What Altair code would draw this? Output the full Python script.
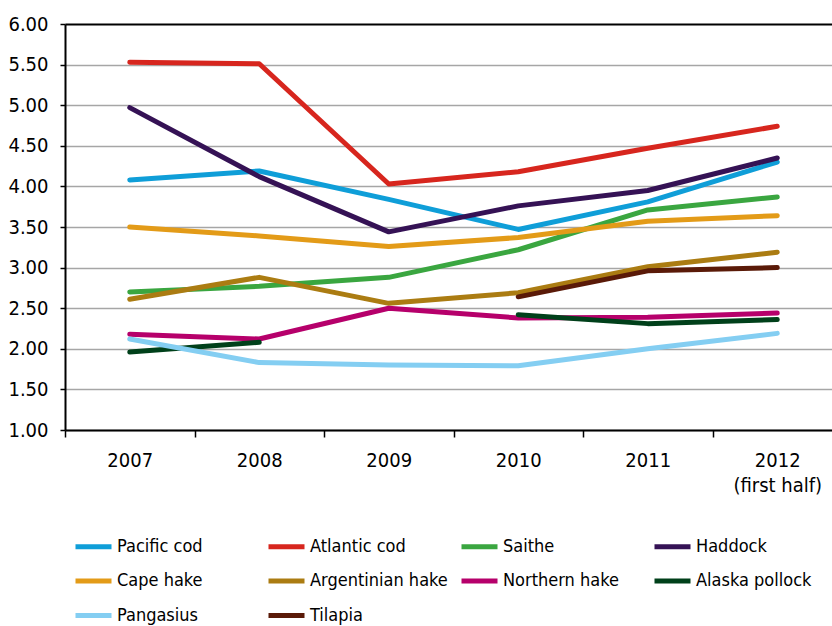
import altair as alt
import pandas as pd

years = ["2007", "2008", "2009", "2010", "2011", "2012"]

species = ["Pacific cod", "Atlantic cod", "Saithe", "Haddock", "Cape hake",
           "Argentinian hake", "Northern hake", "Alaska pollock", "Pangasius", "Tilapia"]
colors = ["#0F9ED8", "#D7261E", "#3AA640", "#351255", "#E39B18",
          "#AB7C12", "#B6006B", "#00401A", "#84CEF2", "#5A1A08"]

pacific_cod = [4.08, 4.19, 3.84, 3.47, 3.81, 4.30]
atlantic_cod = [5.53, 5.51, 4.03, 4.18, 4.47, 4.74]
saithe = [2.70, 2.77, 2.88, 3.22, 3.71, 3.87]
haddock = [4.97, 4.12, 3.44, 3.76, 3.95, 4.35]
cape_hake = [3.50, 3.39, 3.26, 3.37, 3.57, 3.64]
argentinian_hake = [2.61, 2.88, 2.56, 2.69, 3.01, 3.19]
northern_hake = [2.18, 2.12, 2.50, 2.38, 2.39, 2.44]
alaska_pollock = [1.96, 2.08, None, 2.42, 2.31, 2.36]
pangasius = [2.12, 1.83, 1.80, 1.79, 2.00, 2.19]
tilapia = [None, None, None, 2.64, 2.96, 3.00]

series = [pacific_cod, atlantic_cod, saithe, haddock, cape_hake,
          argentinian_hake, northern_hake, alaska_pollock, pangasius, tilapia]

y_ticks = [1.0, 1.5, 2.0, 2.5, 3.0, 3.5, 4.0, 4.5, 5.0, 5.5, 6.0]

rows = []
for name, vals in zip(species, series):
    seg = 0
    for yr, v in zip(years, vals):
        if v is None:
            seg += 1
            continue
        rows.append({"species": name, "year": yr, "value": v, "seg": f"{name}-{seg}"})
df = pd.DataFrame(rows)

FONT = "DejaVu Sans Condensed, DejaVu Sans, sans-serif"
FS = 20
LFS = 18

chart = alt.Chart(df).mark_line(strokeWidth=5, strokeCap="round", strokeJoin="round").encode(
    x=alt.X("year:O",
            scale=alt.Scale(type="band", domain=years, range=[0, 777], paddingInner=0, paddingOuter=0),
            axis=alt.Axis(title=None, tickBand="extent", labelAngle=0, grid=False,
                          domainColor="#000000", domainWidth=2,
                          tickColor="#000000", tickWidth=1.5, tickSize=7,
                          labelFontSize=FS, labelColor="#000000", labelPadding=13,
                          labelLineHeight=25,
                          labelExpr="datum.value == '2012' ? ['2012', '(first half)'] : datum.label")),
    y=alt.Y("value:Q",
            scale=alt.Scale(domain=[1, 6], nice=False, zero=False),
            axis=alt.Axis(title=None, values=y_ticks, format=".2f",
                          domainColor="#000000", domainWidth=2,
                          tickColor="#000000", tickWidth=1.5, tickSize=5,
                          labelFontSize=FS, labelColor="#000000", labelPadding=12,
                          gridColor=alt.condition("datum.value == 6", alt.value("#000000"), alt.value("#A6A6A6")),
                          gridWidth=alt.condition("datum.value == 6", alt.value(2), alt.value(1.5)))),
    color=alt.Color("species:N",
                    scale=alt.Scale(domain=species, range=colors),
                    legend=alt.Legend(title=None, orient="none", legendX=8, legendY=502,
                                      direction="horizontal",
                                      columns=4, gridAlign="all", columnPadding=3, rowPadding=3.5,
                                      symbolType="stroke", symbolSize=1296, symbolStrokeWidth=5,
                                      labelFontSize=LFS, labelColor="#000000", labelOffset=3,
                                      labelLimit=300)),
    detail="seg:N",
).properties(
    width=767, height=406,
    autosize=alt.AutoSizeParams(type="none"),
    padding={"left": 65, "top": 24, "right": 0, "bottom": 196},
).configure(font=FONT).configure_view(stroke=None)

chart.save("out.html", embed_options={"renderer": "svg", "actions": False})
